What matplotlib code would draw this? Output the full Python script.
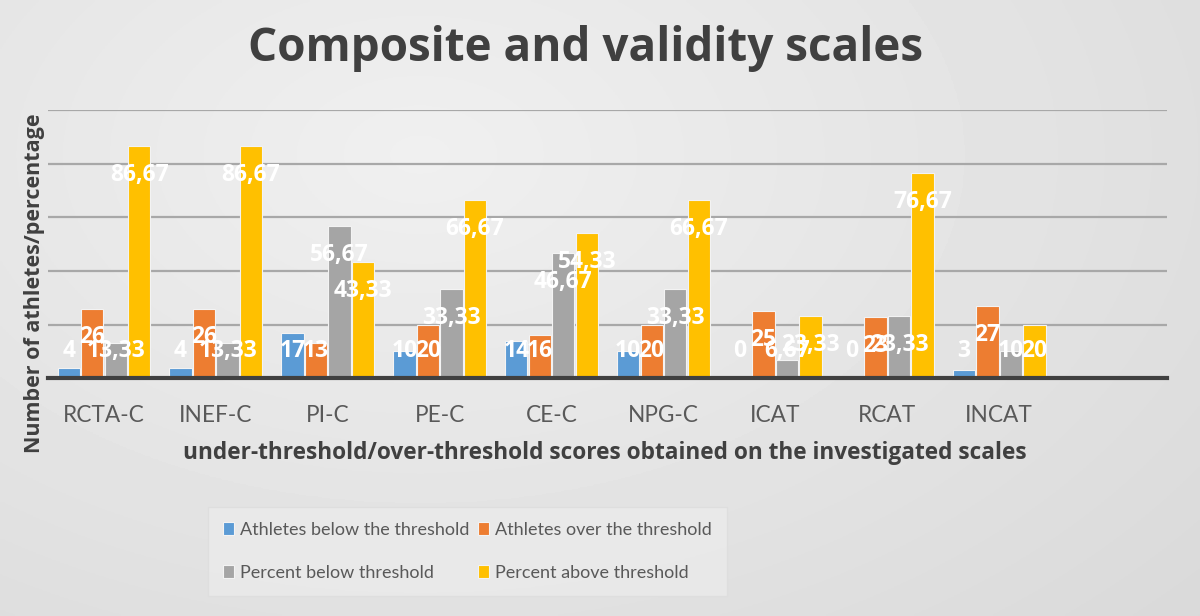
import numpy as np
import matplotlib.pyplot as plt

categories = ["RCTA-C", "INEF-C", "PI-C", "PE-C", "CE-C", "NPG-C", "ICAT", "RCAT", "INCAT"]
series_names = [
    "Athletes below the threshold",
    "Athletes over the threshold",
    "Percent below threshold",
    "Percent above threshold",
]
athletes_below = [4, 4, 17, 10, 14, 10, 0, 0, 3]
athletes_over = [26, 26, 13, 20, 16, 20, 25, 23, 27]
percent_below = [13.33, 13.33, 56.67, 33.33, 46.67, 33.33, 6.67, 23.33, 10]
percent_above = [86.67, 86.67, 43.33, 66.67, 54.33, 66.67, 23.33, 76.67, 20]

colors = ["#5B9BD5", "#ED7D31", "#A5A5A5", "#FFC000"]
series = [athletes_below, athletes_over, percent_below, percent_above]

fig = plt.figure(figsize=(12, 6.16), dpi=100)

# soft gray gradient background
bg = fig.add_axes([0, 0, 1, 1], zorder=-10)
yy, xx = np.mgrid[0:1:200j, 0:1:400j]
grad = 0.94 - 0.10 * np.sqrt(((xx - 0.35) * 1.0) ** 2 + ((yy - 0.25) * 0.8) ** 2)
bg.imshow(grad, cmap="gray", vmin=0, vmax=1, aspect="auto", extent=[0, 1, 0, 1])
bg.axis("off")

ax = fig.add_axes([0.04, 0.386, 0.9325, 0.435])
ax.set_facecolor("none")

x = np.arange(len(categories))
width = 0.2
offsets = [-0.315, -0.105, 0.105, 0.315]

for vals, off, col, name in zip(series, offsets, colors, series_names):
    ax.bar(x + off, vals, width, color=col, edgecolor="#f3f3f3", linewidth=0.8,
           label=name, zorder=3)
    for xi, v in zip(x, vals):
        ly = max(v - 10.8, 10.3)
        ax.text(xi + off, ly, f"{v:g}".replace(".", ","), ha="center", va="center",
                color="white", fontsize=16.5, fontweight="bold", family="Open Sans",
                zorder=5)

ax.set_xlim(-0.5, 9.5)
ax.set_ylim(0, 100)
ax.set_yticks(np.arange(0, 101, 20))
ax.yaxis.grid(True, color="#a8a8a8", linewidth=1.6, zorder=0)
ax.tick_params(axis="y", left=False, labelleft=False)
ax.tick_params(axis="x", length=0, pad=19, labelsize=16.3, labelcolor="#595959")
ax.set_xticks(x)
ax.set_xticklabels(categories, family="Lato")
for s in ["top", "right", "left"]:
    ax.spines[s].set_visible(False)
ax.spines["bottom"].set_color("#404040")
ax.spines["bottom"].set_linewidth(3)
ax.spines["bottom"].set_zorder(6)

fig.text(0.504, 0.264, "under-threshold/over-threshold scores obtained on the investigated scales",
         ha="center", va="center", fontsize=16.3, fontweight="bold", color="#404040",
         family="Open Sans")
fig.text(0.029, 0.54, "Number of athletes/percentage", rotation=90, ha="center",
         va="center", fontsize=15.5, fontweight="bold", color="#404040", family="Open Sans")

fig.text(0.488, 0.922, "Composite and validity scales", ha="center", va="center",
         fontsize=33, fontweight="bold", color="#404040", family="Open Sans")

handles, labels = ax.get_legend_handles_labels()
order = [0, 2, 1, 3]
leg = fig.legend([handles[i] for i in order], [labels[i] for i in order],
                 loc="center", bbox_to_anchor=(0.3896, 0.1047), ncol=2,
                 frameon=True, handlelength=0.6, handleheight=0.75,
                 handletextpad=0.35, columnspacing=0.45, labelspacing=1.5,
                 prop={"family": "Lato", "size": 13})
leg.get_frame().set_facecolor("#ebebeb")
leg.get_frame().set_edgecolor("#dddddd")
leg.get_frame().set_boxstyle("square", pad=0.45)
for t in leg.get_texts():
    t.set_color("#595959")

fig.savefig("out.png", dpi=100)
